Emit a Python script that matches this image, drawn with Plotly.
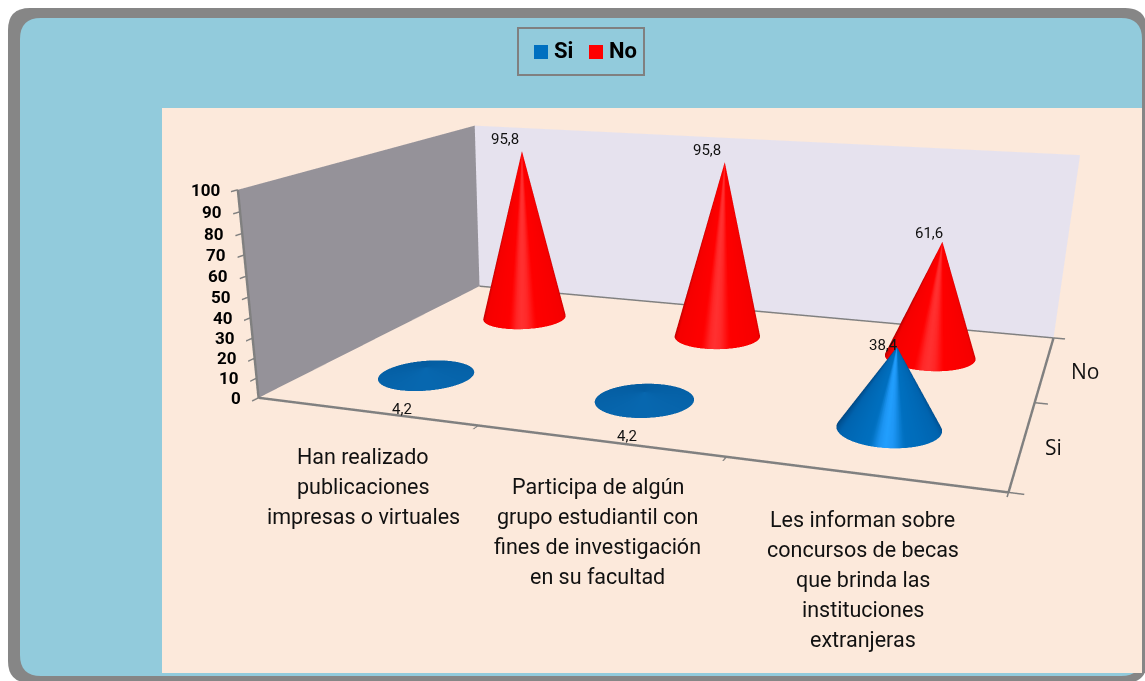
import numpy as np
import plotly.graph_objects as go

categories = ["Han realizado<br>publicaciones<br>impresas o virtuales",
              "Participa de algún<br>grupo estudiantil con<br>fines de investigación<br>en su facultad",
              "Les informan sobre<br>concursos de becas<br>que brinda las<br>instituciones<br>extranjeras"]
series_names = ["Si", "No"]
si_values = [4.2, 4.2, 38.4]
no_values = [95.8, 95.8, 61.6]
value_labels_si = ["4,2", "4,2", "38,4"]
value_labels_no = ["95,8", "95,8", "61,6"]
z_ticks = list(range(0, 101, 10))

# The reference is an off-axis 3D view: the scene viewport extends below the window.
W, H = 1157, 1154
EYE = (2.0628, -6.8883, 1.5620)
CENTER = (-0.3457, -0.6504, -1.5092)
UP = (-0.0006, 0.0, 1.0)
ASPECT = (3.5734, 2.5889, 1.0)

def px(x, y):
    return f"{x/W:.5f} {1-y/H:.5f}"

def rrect(x0, y0, x1, y1, r):
    return ("M"+px(x0+r, y0)+" L"+px(x1-r, y0)+" Q"+px(x1, y0)+" "+px(x1, y0+r)+" L"+px(x1, y1-r)+" Q"+px(x1, y1)+" "+px(x1-r, y1)
            +" L"+px(x0+r, y1)+" Q"+px(x0, y1)+" "+px(x0, y1-r)+" L"+px(x0, y0+r)+" Q"+px(x0, y0)+" "+px(x0+r, y0)+" Z")

def bx(x0, y0, x1, y1, **k):
    return dict(type="rect", xref="paper", yref="paper", x0=x0/W, x1=x1/W, y0=1-y0/H, y1=1-y1/H, layer="below", **k)

shapes = [dict(type="path", xref="paper", yref="paper", path=rrect(8, 8, 1147, 683, 22), fillcolor="#868686", line_width=0, layer="below"),
          dict(type="path", xref="paper", yref="paper", path=rrect(20, 18, 1142, 676, 21), fillcolor="#92CBDC", line_width=0, layer="below"),
          bx(162, 108, 1142, 673, fillcolor="#FCE9DB", line_width=0),
          bx(518, 28, 644, 75, fillcolor="rgba(0,0,0,0)", line=dict(color="#808080", width=2)),
          bx(534, 45, 548, 59, fillcolor="#0070C0", line_width=0),
          bx(589, 45, 603, 59, fillcolor="#FF0000", line_width=0)]

def cone(ix, iy, h, stops, name):
    N = 96
    rx, ry = 0.2, 0.22
    cx, cy = ix+.5, iy+.5
    mx = (cx/3-.5)*ASPECT[0]
    my = (cy/2-.5)*ASPECT[1]
    phase = np.arctan2(EYE[0]-mx, -(EYE[1]-my))
    a = np.linspace(0, 2*np.pi, N, endpoint=False)
    X, Y, Z, C, I, J, K = [], [], [], [], [], [], []
    ts = [s[0] for s in stops]
    cols = np.array([s[1] for s in stops], float)

    def col(t):
        t = (t-phase+np.pi) % (2*np.pi)-np.pi
        t = abs(t)*(0.86 if t > 0 else 1.0)
        return [float(np.interp(t, ts, cols[:, k])) for k in range(3)]
    for k in range(N):
        a0, a1 = a[k], a[(k+1) % N]
        am = a0+np.pi/N
        v = len(X)
        X += [cx, cx+rx*np.sin(a0), cx+rx*np.sin(a1)]
        Y += [cy, cy-ry*np.cos(a0), cy-ry*np.cos(a1)]
        Z += [h, 0, 0]
        C += [col(am), col(a0), col(a1)]
        I.append(v)
        J.append(v+1)
        K.append(v+2)
    C = [f"rgb({int(c[0])},{int(c[1])},{int(c[2])})" for c in C]
    return go.Mesh3d(x=X, y=Y, z=Z, i=I, j=J, k=K, vertexcolor=C, name=name, hoverinfo="skip", showlegend=False,
                     lighting=dict(ambient=1, diffuse=0, specular=0, roughness=1, fresnel=0), flatshading=False)

blue = [(0, (34, 160, 255)), (.12, (30, 150, 245)), (.3, (0, 112, 192)), (1.1, (0, 100, 175)), (1.6, (0, 70, 130)), (3.2, (6, 96, 168))]
blue_flat = [(0, (8, 104, 176)), (3.2, (4, 92, 160))]
red = [(0, (255, 50, 50)), (.12, (255, 40, 40)), (.3, (255, 0, 0)), (1.15, (245, 0, 0)), (1.6, (165, 0, 0)), (3.2, (170, 0, 0))]

traces = []
for i in range(3):
    traces.append(cone(i, 1, no_values[i], red, series_names[1]))
for i in range(3):
    traces.append(cone(i, 0, si_values[i], blue if si_values[i] > 10 else blue_flat, series_names[0]))
traces.append(go.Scatter3d(x=[0, 3], y=[2, 2], z=[0, 0], mode="lines", line=dict(color="#808080", width=3), hoverinfo="skip", showlegend=False))
fig = go.Figure(traces)

TXT = "Roboto"
ann = []
offs_no = [(-17, 12), (-18, 12), (-13, 9)]
offs_si = [(-24, -42), (-18, -44), (-13, 2)]
cat_dx = [-2, -1, 0]
for i in range(3):
    ann.append(dict(x=i+.5, y=1.5, z=no_values[i], text=value_labels_no[i], xshift=offs_no[i][0], yshift=offs_no[i][1], showarrow=False, font=dict(family=TXT, size=15, color="#111")))
    ann.append(dict(x=i+.5, y=.5, z=si_values[i], text=value_labels_si[i], xshift=offs_si[i][0], yshift=offs_si[i][1], showarrow=False, font=dict(family=TXT, size=15, color="#111")))
    for k, line in enumerate(categories[i].split("<br>")):
        ann.append(dict(x=i+.5, y=0, z=0, text=line, yanchor="top", yshift=-31-30*k, xshift=cat_dx[i], showarrow=False, font=dict(family=TXT, size=21.5, color="#111")))
for z in z_ticks:
    ann.append(dict(x=0, y=0, z=z, text=str(z), xanchor="right", xshift=-16, showarrow=False, font=dict(family=TXT, size=17, color="#000", weight="bold")))
for j, n in enumerate(series_names):
    ann.append(dict(x=3, y=j+.5, z=0, text=n, xanchor="left", xshift=[20, 24][j], yshift=-3, showarrow=False, font=dict(family="Open Sans", size=21, color="#111")))

axc = dict(showgrid=False, zeroline=False, showticklabels=False, title="", showspikes=False, showline=True, linecolor="#808080", linewidth=5,
           ticks="outside", tickcolor="#808080", tickwidth=3)
fig.update_layout(width=W, height=H, margin=dict(l=0, r=0, t=0, b=0), paper_bgcolor="white", shapes=shapes, hovermode=False, showlegend=False,
    annotations=[
        dict(xref="paper", yref="paper", x=552/W, y=1-51/H, text="<b>"+series_names[0]+"</b>", xanchor="left", yanchor="middle", showarrow=False, font=dict(family=TXT, size=22, color="#000")),
        dict(xref="paper", yref="paper", x=607/W, y=1-51/H, text="<b>"+series_names[1]+"</b>", xanchor="left", yanchor="middle", showarrow=False, font=dict(family=TXT, size=22, color="#000"))],
    scene=dict(domain=dict(x=[0, 1], y=[0, 1]), bgcolor="rgba(0,0,0,0)", aspectmode="manual",
        aspectratio=dict(x=ASPECT[0], y=ASPECT[1], z=ASPECT[2]),
        camera=dict(eye=dict(x=EYE[0], y=EYE[1], z=EYE[2]), center=dict(x=CENTER[0], y=CENTER[1], z=CENTER[2]), up=dict(x=UP[0], y=UP[1], z=UP[2]), projection=dict(type="perspective")),
        xaxis=dict(axc, range=[0, 3], tickvals=[0, 1, 2, 3], ticklen=10, showbackground=True, backgroundcolor="#959299"),
        yaxis=dict(axc, range=[0, 2], tickvals=[0, 1, 2], ticklen=9, showbackground=True, backgroundcolor="#E6E2EE"),
        zaxis=dict(axc, range=[0, 100], tickvals=z_ticks, ticklen=8, showbackground=False),
        annotations=ann))
fig.write_html("out.html", post_script="document.body.style.margin='0';document.documentElement.style.overflow='hidden';document.body.style.overflow='hidden';", config=dict(displayModeBar=False))
